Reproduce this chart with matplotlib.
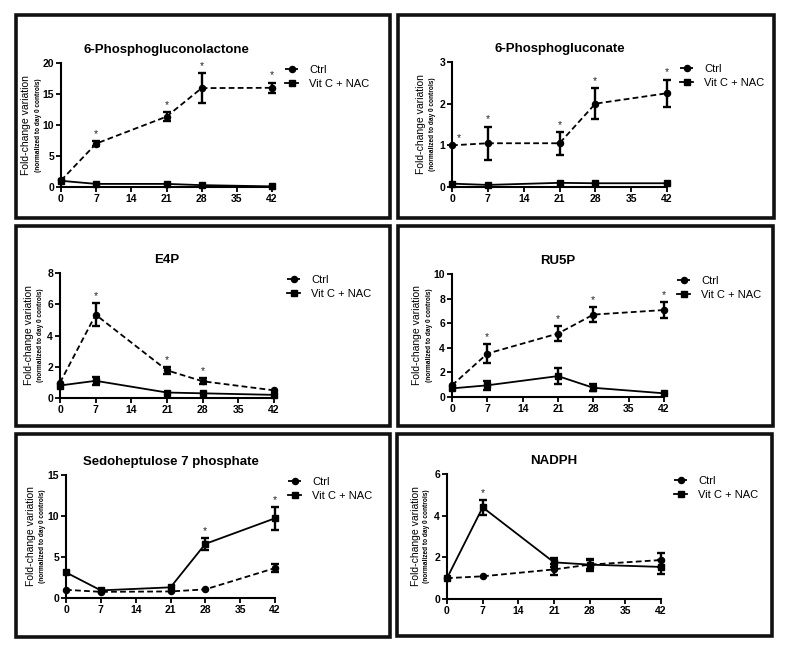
import numpy as np
import matplotlib
matplotlib.use('Agg')
import matplotlib.pyplot as plt
from matplotlib.patches import Rectangle

plt.rcParams['font.family'] = ['Liberation Sans', 'DejaVu Sans']

W, H = 787, 648

days = [0, 7, 21, 28, 42]
xticks = [0, 7, 14, 21, 28, 35, 42]
series_names = ['Ctrl', 'Vit C + NAC']

titles = ['6-Phosphogluconolactone', '6-Phosphogluconate', 'E4P', 'RU5P',
          'Sedoheptulose 7 phosphate', 'NADPH']
ymaxes = [20, 3, 8, 10, 15, 6]
ysteps = [5, 1, 2, 2, 5, 2]

# fold-change values
ctrl_vals = [
    [1.05, 7.0, 11.35, 15.95, 16.0],
    [1.0, 1.05, 1.05, 2.0, 2.25],
    [0.98, 5.33, 1.77, 1.07, 0.49],
    [0.95, 3.53, 5.16, 6.7, 7.07],
    [1.0, 0.75, 0.8, 1.05, 3.65],
    [1.0, 1.09, 1.42, 1.65, 1.87],
]
ctrl_err = [
    [0.0, 0.35, 0.7, 2.45, 0.85],
    [0.0, 0.4, 0.27, 0.37, 0.33],
    [0.0, 0.75, 0.22, 0.18, 0.0],
    [0.0, 0.76, 0.63, 0.58, 0.63],
    [0.0, 0.0, 0.0, 0.0, 0.45],
    [0.0, 0.0, 0.26, 0.2, 0.32],
]
vit_vals = [
    [1.0, 0.5, 0.5, 0.3, 0.1],
    [0.08, 0.05, 0.1, 0.09, 0.09],
    [0.8, 1.1, 0.35, 0.3, 0.2],
    [0.7, 0.95, 1.7, 0.75, 0.3],
    [3.12, 0.93, 1.3, 6.6, 9.72],
    [1.0, 4.4, 1.76, 1.65, 1.54],
]
vit_err = [
    [0.0, 0.0, 0.0, 0.0, 0.0],
    [0.0, 0.0, 0.0, 0.0, 0.0],
    [0.0, 0.25, 0.0, 0.0, 0.0],
    [0.0, 0.35, 0.64, 0.3, 0.0],
    [0.0, 0.0, 0.0, 0.7, 1.4],
    [0.0, 0.36, 0.2, 0.29, 0.34],
]
# significance stars: (day, series index 0=Ctrl 1=VitC)
stars = [
    [(7, 0), (21, 0), (28, 0), (42, 0)],
    [(0, 0), (7, 0), (21, 0), (28, 0), (42, 0)],
    [(7, 0), (21, 0), (28, 0)],
    [(7, 0), (21, 0), (28, 0), (42, 0)],
    [(28, 1), (42, 1)],
    [(7, 1)],
]

# layout in pixels: axes (left, right, top, bottom) and frame boxes
axes_px = [(61, 272, 63, 187), (452, 667, 62, 187),
           (60, 274, 273, 398), (452, 664, 274, 397),
           (66, 275, 475, 598), (447, 661, 474, 599)]
boxes_px = [(15.5, 390, 15.5, 218), (398, 774, 15.5, 218),
            (15.5, 390, 226, 426), (398, 773, 226, 426),
            (15.5, 390, 434, 637), (397, 772, 434, 636)]

fig = plt.figure(figsize=(W / 100, H / 100), dpi=100)

for (x0, x1, y0, y1) in boxes_px:
    fig.patches.append(Rectangle((x0 / W, 1 - y1 / H), (x1 - x0) / W, (y1 - y0) / H,
                                 transform=fig.transFigure, fill=False,
                                 edgecolor='#111111', linewidth=2.6))

for i in range(6):
    l, r, t, b = axes_px[i]
    ax = fig.add_axes([l / W, 1 - b / H, (r - l) / W, (b - t) / H])
    wpx, hpx = r - l, b - t

    cv, ce = np.array(ctrl_vals[i]), np.array(ctrl_err[i])
    vv, ve = np.array(vit_vals[i]), np.array(vit_err[i])

    ax.plot(days, cv, color='black', lw=1.3, linestyle=(0, (3.2, 1.8)),
            marker='o', markersize=4.4, label=series_names[0], clip_on=False, zorder=4)
    ax.plot(days, vv, color='black', lw=1.3, linestyle='-',
            marker='s', markersize=4.8, label=series_names[1], clip_on=False, zorder=4)

    for vals, errs in [(cv, ce), (vv, ve)]:
        m = errs > 0
        if m.any():
            ax.errorbar(np.array(days)[m], vals[m], yerr=errs[m], fmt='none',
                        ecolor='black', elinewidth=1.7, capsize=2.7, capthick=1.7,
                        clip_on=False, zorder=5)

    for day, s in stars[i]:
        k = days.index(day)
        vals, errs = (cv, ce) if s == 0 else (vv, ve)
        dx = 5 if day == 0 else 0
        ax.annotate('*', (day, vals[k] + errs[k]), xytext=(dx, 1.5),
                    textcoords='offset points', ha='center', va='bottom',
                    fontsize=7.5, color='#222222')

    ax.set_xlim(0, 42)
    ax.set_ylim(0, ymaxes[i])
    ax.set_xticks(xticks)
    ax.set_yticks(np.arange(0, ymaxes[i] + 0.01, ysteps[i]))
    for side in ['top', 'right']:
        ax.spines[side].set_visible(False)
    for side in ['left', 'bottom']:
        ax.spines[side].set_linewidth(1.5)
    ax.tick_params(direction='out', length=3.5, width=1.3, pad=1.5, labelsize=7.5)
    for lab in ax.get_xticklabels() + ax.get_yticklabels():
        lab.set_fontweight('bold')

    ax.set_title(titles[i], fontsize=9.5, fontweight='bold', pad=7)

    nd = len(str(ymaxes[i]))
    main_off = 31 + 4 * (nd - 1)
    small_off = 20 + 3 * (nd - 1)
    ax.annotate('Fold-change variation', (0, 0.5), xycoords='axes fraction',
                xytext=(-main_off * 0.72, 0), textcoords='offset points',
                rotation=90, ha='center', va='center', fontsize=7.5)
    ax.annotate('(normalized to day 0 controls)', (0, 0.5), xycoords='axes fraction',
                xytext=(-small_off * 0.72, 0), textcoords='offset points',
                rotation=90, ha='center', va='center', fontsize=4.7, fontweight='bold')

    ax.legend(loc='upper left', bbox_to_anchor=(1 + 13 / wpx, 1 - 2 / hpx),
              frameon=False, fontsize=8, borderpad=0, borderaxespad=0,
              handlelength=1.2, handletextpad=1.0, labelspacing=0.35)

fig.savefig('out.png', dpi=100)
